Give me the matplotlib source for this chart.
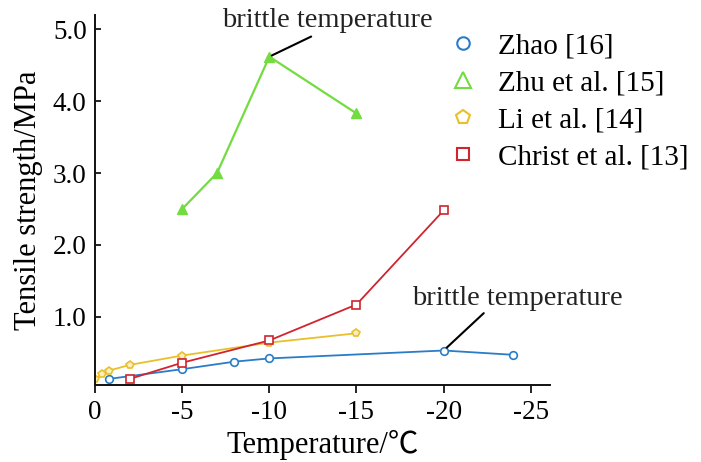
import matplotlib
matplotlib.use("Agg")
import matplotlib.pyplot as plt
from matplotlib.lines import Line2D

plt.rcParams['font.family'] = ['Liberation Serif', 'Noto Sans CJK SC']

# данные
temp_zhao = [-0.8, -5, -8, -10, -20, -24]
ts_zhao = [0.135, 0.27, 0.375, 0.42, 0.53, 0.47]

temp_zhu = [-5, -7, -10, -15]
ts_zhu = [2.5, 3.0, 4.62, 3.83]

temp_li = [0, -0.4, -0.8, -2, -5, -10, -15]
ts_li = [0.135, 0.2, 0.25, 0.33, 0.46, 0.64, 0.77]

temp_christ = [-2, -5, -10, -15, -20]
ts_christ = [0.135, 0.36, 0.67, 1.17, 2.48]

x_ticks = [0, -5, -10, -15, -20, -25]
y_ticks = [1.0, 2.0, 3.0, 4.0, 5.0]

c_blue = '#2a7cc8'
c_green = '#72dc40'
c_yellow = '#e8c02a'
c_red = '#d0242f'

fig = plt.figure(figsize=(7.01, 4.62), dpi=100)
ax = fig.add_axes([95 / 701, 1 - 385 / 462, 455 / 701, 370 / 462])

ax.plot(temp_zhao, ts_zhao, color=c_blue, lw=1.3, marker='o', ms=5.5,
        mfc='white', mec=c_blue, mew=1.2)
ax.plot(temp_zhu, ts_zhu, color=c_green, lw=1.6, marker='^', ms=6.5,
        mfc=c_green, mec=c_green)
ax.plot(temp_li, ts_li, color=c_yellow, lw=1.3, marker='p', ms=6,
        mfc='#fbeec0', mec=c_yellow, mew=1.2)
ax.plot(temp_christ, ts_christ, color=c_red, lw=1.3, marker='s', ms=5.5,
        mfc='white', mec=c_red, mew=1.2)

ax.set_xlim(0, -26.1)
ax.set_ylim(0.05, 5.2)
ax.set_xticks(x_ticks)
ax.set_xticklabels([str(t) for t in x_ticks])
ax.set_yticks(y_ticks)
ax.set_yticklabels([f'{t:.1f}' for t in y_ticks])
ax.tick_params(axis='x', direction='out', length=6, width=1.2, labelsize=19.5, pad=5)
ax.tick_params(axis='y', direction='in', length=4, width=1.2, labelsize=19.5, pad=6)
for s in ['top', 'right']:
    ax.spines[s].set_visible(False)
for s in ['left', 'bottom']:
    ax.spines[s].set_linewidth(1.4)
    ax.spines[s].set_color('#111111')

ax.set_xlabel('Temperature/℃', fontsize=22, labelpad=3)
ax.set_ylabel('Tensile strength/MPa', fontsize=22, labelpad=7)

# подписи "brittle temperature"
ax.annotate('', xy=(-10, 4.62), xytext=(-12.4, 4.9),
            arrowprops=dict(arrowstyle='-', color='black', lw=1.5,
                            shrinkA=0, shrinkB=2), annotation_clip=False)
ax.text(-7.3, 5.13, 'brittle temperature', fontsize=20.5, va='center',
        ha='left', color='#222222', clip_on=False)
ax.annotate('', xy=(-20, 0.53), xytext=(-22.3, 1.05),
            arrowprops=dict(arrowstyle='-', color='black', lw=1.5,
                            shrinkA=0, shrinkB=3))
ax.text(-18.2, 1.26, 'brittle temperature', fontsize=20.5, va='center',
        ha='left', color='#222222')

handles = [
    Line2D([], [], ls='none', marker='o', ms=9, mfc='none', mec=c_blue, mew=1.5),
    Line2D([], [], ls='none', marker='^', ms=11, mfc='none', mec=c_green, mew=1.5),
    Line2D([], [], ls='none', marker='p', ms=10, mfc='none', mec=c_yellow, mew=1.5),
    Line2D([], [], ls='none', marker='s', ms=9, mfc='none', mec=c_red, mew=1.5),
]
labels = ['Zhao [16]', 'Zhu et al. [15]', 'Li et al. [14]', 'Christ et al. [13]']
fig.legend(handles, labels, loc='upper left', bbox_to_anchor=(448 / 701, 1 - 33 / 462),
           frameon=False, fontsize=21, handlelength=1.0, handletextpad=0.7,
           labelspacing=0.36, borderpad=0, borderaxespad=0)

plt.savefig('out.png', dpi=100)
